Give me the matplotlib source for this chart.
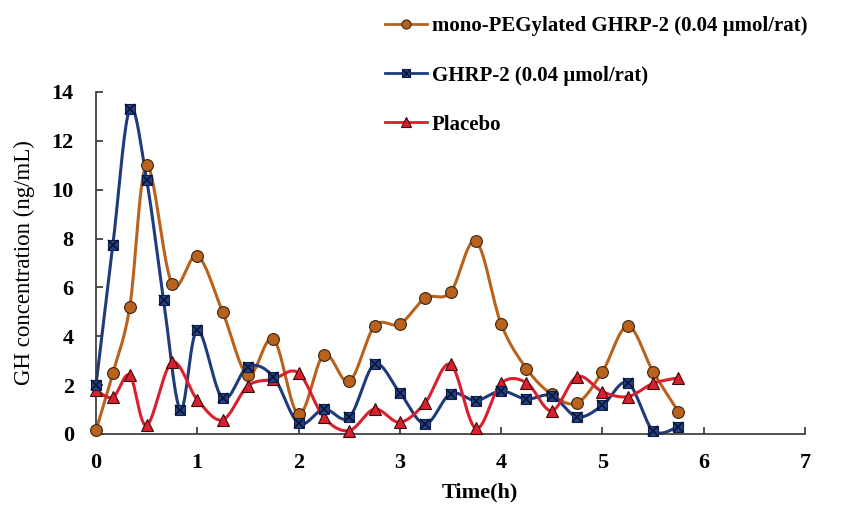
import numpy as np
import matplotlib
matplotlib.use("Agg")
import matplotlib.pyplot as plt
from matplotlib.lines import Line2D

# sampling times (h)
t_peg = [0, 1/6, 1/3, 0.5, 0.75, 1.0, 1.25, 1.5, 1.75, 2.0, 2.25, 2.5, 2.75, 3.0,
         3.25, 3.5, 3.75, 4.0, 4.25, 4.5, 4.75, 5.0, 5.25, 5.5, 5.75]
t_ghrp = [0, 1/6, 1/3, 0.5, 2/3, 5/6, 1.0, 1.25, 1.5, 1.75, 2.0, 2.25, 2.5, 2.75,
          3.0, 3.25, 3.5, 3.75, 4.0, 4.25, 4.5, 4.75, 5.0, 5.25, 5.5, 5.75]
t_placebo = t_peg

# GH concentration (ng/mL)
gh_peg = [0.15, 2.5, 5.2, 11.0, 6.15, 7.3, 5.0, 2.4, 3.9, 0.8, 3.25, 2.15, 4.42,
          4.5, 5.56, 5.8, 7.9, 4.5, 2.68, 1.62, 1.27, 2.55, 4.42, 2.55, 0.91]
gh_ghrp = [2.0, 7.74, 13.3, 10.4, 5.5, 1.0, 4.26, 1.46, 2.76, 2.35, 0.44, 1.02,
           0.68, 2.85, 1.69, 0.41, 1.65, 1.37, 1.76, 1.43, 1.57, 0.7, 1.17, 2.1,
           0.14, 0.3]
gh_placebo = [1.8, 1.5, 2.4, 0.35, 2.94, 1.4, 0.58, 1.97, 2.24, 2.5, 0.68, 0.14,
              1.02, 0.48, 1.28, 2.85, 0.23, 2.07, 2.1, 0.95, 2.35, 1.73, 1.53,
              2.07, 2.3]

labels = ["mono-PEGylated GHRP-2 (0.04 \u00b5mol/rat)",
          "GHRP-2 (0.04 \u00b5mol/rat)",
          "Placebo"]

c_peg = "#B8621E"
c_ghrp = "#1F3B7C"
c_plc = "#D8202E"


def smooth(x, y, n=30):
    # Excel-like smoothed line: cubic Bezier between points
    p = np.column_stack([x, y]).astype(float)
    out = [p[:1]]
    s = np.linspace(0, 1, n)[1:, None]
    for i in range(len(p) - 1):
        p0 = p[max(i - 1, 0)]
        p1, p2 = p[i], p[i + 1]
        p3 = p[min(i + 2, len(p) - 1)]
        c1 = p1 + (p2 - p0) / 6
        c2 = p2 - (p3 - p1) / 6
        seg = ((1 - s) ** 3) * p1 + 3 * ((1 - s) ** 2) * s * c1 \
            + 3 * (1 - s) * s ** 2 * c2 + s ** 3 * p2
        out.append(seg)
    q = np.vstack(out)
    return q[:, 0], q[:, 1]


plt.rcParams["font.family"] = ["Liberation Serif", "DejaVu Serif"]

fig = plt.figure(figsize=(8.48, 5.13), dpi=100)
ax = fig.add_axes([0.1132, 0.154, 0.8361, 0.6667])

for t, y, c in [(t_peg, gh_peg, c_peg), (t_ghrp, gh_ghrp, c_ghrp),
                (t_placebo, gh_placebo, c_plc)]:
    xs, ys = smooth(t, y)
    ax.plot(xs, ys, color=c, lw=2.2, zorder=2, clip_on=False)

ax.plot(t_peg, gh_peg, "o", ms=8.5, mfc="#B8621E", mec="#3a2410", mew=0.8,
        zorder=3, clip_on=False)
ax.plot(t_ghrp, gh_ghrp, "s", ms=7.5, mfc="#24408A", mec="#10204a", mew=0.8,
        zorder=4, clip_on=False)
ax.plot(t_ghrp, gh_ghrp, "x", ms=7, mec="#0a1530", mew=1.2, zorder=5,
        clip_on=False)
ax.plot(t_placebo, gh_placebo, "^", ms=8.5, mfc="#D8202E", mec="#3a0a0a",
        mew=0.8, zorder=3, clip_on=False)

ax.set_xlim(0, 7)
ax.set_ylim(0, 14)
ax.set_xticks(range(0, 8))
ax.set_yticks(range(0, 15, 2))
for s in ["top", "right"]:
    ax.spines[s].set_visible(False)
for s in ["left", "bottom"]:
    ax.spines[s].set_color("#333333")
    ax.spines[s].set_linewidth(1.2)
ax.tick_params(direction="in", length=5, width=1.2, color="#333333",
               labelsize=16)
ax.tick_params(axis="x", pad=14)
ax.tick_params(axis="y", pad=16)
for lab in ax.get_xticklabels() + ax.get_yticklabels():
    lab.set_fontweight("bold")

ax.set_xlabel("Time(h)", fontsize=16, fontweight="bold")
ax.xaxis.set_label_coords(0.5416, -0.142)
ax.set_ylabel("GH concentration (ng/mL)", fontsize=16.5)
ax.yaxis.set_label_coords(-0.086, 0.5)

h_peg = Line2D([], [], color=c_peg, lw=2, marker="o", ms=6.5, mfc=c_peg,
               mec="#3a2410", mew=0.8)
h_ghrp = (Line2D([], [], color=c_ghrp, lw=2, marker="s", ms=5.5, mfc="#24408A",
                 mec="#10204a", mew=0.8),
          Line2D([], [], ls="none", marker="x", ms=5.5, mec="#0a1530", mew=1))
h_plc = Line2D([], [], color=c_plc, lw=2, marker="^", ms=6.5, mfc=c_plc,
               mec="#3a0a0a", mew=0.8)
fig.legend([h_peg, h_ghrp, h_plc], labels, loc="upper left",
           bbox_to_anchor=(0.454, 0.968), frameon=False, borderpad=0,
           borderaxespad=0, prop={"weight": "bold", "size": 15},
           handlelength=2.0, handletextpad=0.25, labelspacing=1.4)

fig.savefig("out.png", dpi=100)
